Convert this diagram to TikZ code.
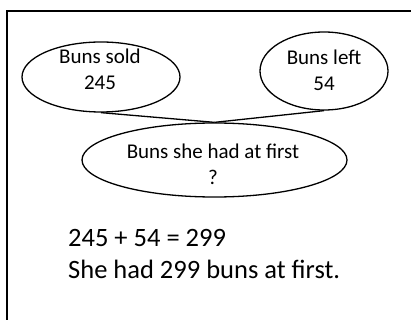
\documentclass[tikz,border=0pt]{standalone}
\usepackage{fontspec}
\setmainfont{Carlito}
\usetikzlibrary{shapes.geometric}
\begin{document}
\begin{tikzpicture}[x=1pt,y=-1pt,
  bubble/.style={draw, ellipse, line width=1.3pt, inner sep=0pt},
  bubbletext/.style={align=center, inner sep=0pt, font=\fontsize{21}{26}\selectfont},
  worktext/.style={align=left, anchor=west, inner sep=0pt, font=\fontsize{26.5}{32}\selectfont}]
  \useasboundingbox (0,0) rectangle (411,320);
  % outer frame, running off the right and bottom edges
  \draw[line width=2pt] (6.5,322) -- (6.5,11) -- (413,11);

  % the three bubbles
  \node[bubble, minimum width=158pt, minimum height=70pt] (sold) at (101,77) {};
  \node[bubble, minimum width=128pt, minimum height=78pt] (left) at (324,71) {};
  \node[bubble, minimum width=265pt, minimum height=74pt] (first) at (214.5,160) {};

  \node[bubbletext] (soldtxt) at (100,69) {Buns sold\\245};
  \node[bubbletext] (lefttxt) at (324,70) {Buns left\\54};
  \node[bubbletext] (firsttxt) at (213,164) {Buns she had at first\\?};

  % join lines
  \draw[line width=1.3pt] (sold.south) -- (first.north);
  \draw[line width=1.3pt] (left.south) -- (first.north);

  % working
  \node[worktext] (work) at (68,254) {245 + 54 = 299\\She had 299 buns at first.};
\end{tikzpicture}
\end{document}
